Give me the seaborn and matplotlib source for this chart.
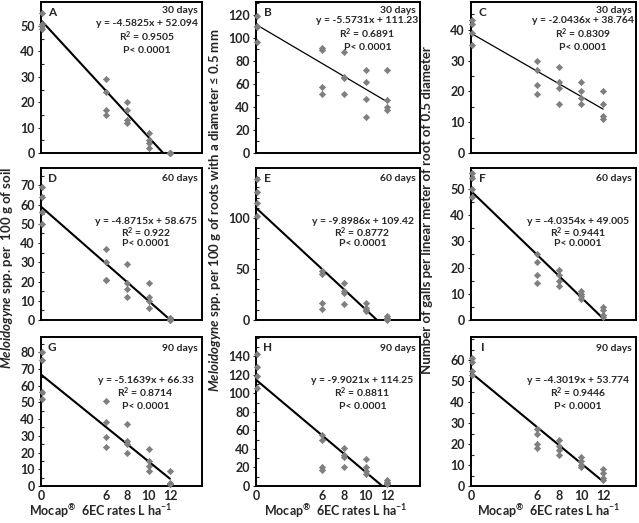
"""Mocap 6EC dose-response: 3x3 grid of nematode counts vs rate, with linear fits."""

import matplotlib
matplotlib.use("Agg")
import matplotlib.pyplot as plt
import numpy as np
import pandas as pd
import seaborn as sns
from matplotlib.ticker import MultipleLocator

sns.set_style("white")
plt.rcParams["font.family"] = ["Lato", "DejaVu Sans"]
plt.rcParams["font.weight"] = "bold"
plt.rcParams["mathtext.fontset"] = "custom"
plt.rcParams["mathtext.rm"] = "Lato:bold"
plt.rcParams["mathtext.bf"] = "Lato:bold"
plt.rcParams["mathtext.it"] = "Lato:italic:bold"
plt.rcParams["mathtext.default"] = "bf"

# ---- data: four replicates per Mocap rate ----
rates = [0, 6, 8, 10, 12]
panel_ids = ["A", "B", "C", "D", "E", "F", "G", "H", "I"]
days = ["30 days"] * 3 + ["60 days"] * 3 + ["90 days"] * 3

reps_A = [[55, 51, 50, 49], [29, 24, 17, 15], [20, 17, 13, 12], [8, 5, 4, 2], [0, 0, 0, 0]]
reps_B = [[119, 110, 109, 96], [91, 89, 57, 51], [88, 66, 65, 51], [72, 62, 47, 31], [72, 46, 40, 37]]
reps_C = [[43, 42, 39, 35], [30, 27, 22, 19], [28, 23, 21, 16], [23, 20, 18, 16], [20, 16, 12, 11]]
reps_D = [[69, 64, 56, 50], [37, 30, 21, 21], [29, 19, 16, 12], [19, 12, 10, 6], [1, 0, 0, 1]]
reps_E = [[138, 125, 115, 102], [48, 45, 17, 11], [36, 28, 26, 16], [17, 12, 10, 9], [4, 2, 1, 0]]
reps_F = [[56, 54, 50, 47], [25, 22, 17, 14], [19, 17, 15, 13], [11, 10, 9, 8], [5, 4, 2, 1]]
reps_G = [[80, 75, 56, 52], [51, 38, 29, 23], [37, 27, 25, 20], [22, 15, 12, 9], [9, 2, 1, 1]]
reps_H = [[143, 129, 119, 106], [55, 50, 21, 17], [41, 33, 31, 21], [29, 20, 16, 13], [6, 4, 3, 2]]
reps_I = [[61, 59, 55, 53], [27, 25, 20, 18], [22, 19, 17, 15], [14, 12, 10, 9], [8, 6, 4, 3]]
all_reps = [reps_A, reps_B, reps_C, reps_D, reps_E, reps_F, reps_G, reps_H, reps_I]

# fitted regressions as printed on each panel
slopes = [-4.5825, -5.5731, -2.0436, -4.8715, -9.8986, -4.0354, -5.1639, -9.9021, -4.3019]
intercepts = [52.094, 111.23, 38.764, 58.675, 109.42, 49.005, 66.33, 114.25, 53.774]
eq_text = ["y = -4.5825x + 52.094", "y = -5.5731x + 111.23", "y = -2.0436x + 38.764",
           "y = -4.8715x + 58.675", "y = -9.8986x + 109.42", "y = -4.0354x + 49.005",
           "y = -5.1639x + 66.33", "y = -9.9021x + 114.25", "y = -4.3019x + 53.774"]
r2_text = ["0.9505", "0.6891", "0.8309", "0.922", "0.8772", "0.9441", "0.8714", "0.8811", "0.9446"]

y_top = [59.5, 131, 49, 79, 149, 58, 89, 161, 71]
y_major = [10, 20, 10, 10, 50, 10, 10, 20, 10]
y_minor = [5, 10, 5, 5, 10, 5, 5, 10, 5]
y_max_tick = [50, 120, 40, 70, 100, 50, 80, 140, 60]

W, H = 639, 523
cols_px = [(41, 202), (256, 420), (471, 636)]
rows_px = [(2, 153), (168, 320), (337, 486)]
GREY = "#7f7f7f"

fig = plt.figure(figsize=(W / 100, H / 100), dpi=100)

for k, pid in enumerate(panel_ids):
    r, c = divmod(k, 3)
    (l, rgt), (t, b) = cols_px[c], rows_px[r]
    ax = fig.add_axes([l / W, 1 - b / H, (rgt - l) / W, (b - t) / H])

    df = pd.DataFrame([(x, v) for x, vals in zip(rates, all_reps[k]) for v in vals],
                      columns=["rate", "count"])
    sns.scatterplot(data=df, x="rate", y="count", ax=ax, marker="D", s=10,
                    color=GREY, edgecolor=GREY, linewidth=0.5, zorder=3, clip_on=False)
    fit = pd.DataFrame({"rate": [rates[0], rates[-1]]})
    fit["count"] = slopes[k] * fit["rate"] + intercepts[k]
    sns.lineplot(data=fit, x="rate", y="count", ax=ax, color="black",
                 linewidth=0.9 if pid in ("B", "C") else 1.5, zorder=2)

    ax.set_xlim(-0.05, 15)
    ax.set_ylim(0, y_top[k])
    ax.set_yticks(np.arange(0, y_max_tick[k] + 1, y_major[k]))
    ax.yaxis.set_minor_locator(MultipleLocator(y_minor[k]))
    ax.tick_params(axis="y", which="major", direction="out", length=2.5, width=0.8,
                   labelsize=9, left=True, pad=2)
    ax.tick_params(axis="y", which="minor", direction="in", length=2.5, width=0.8, left=True)
    ax.set_xticks(rates)
    ax.tick_params(axis="x", length=0, labelsize=9, pad=3)
    if r < 2:
        ax.set_xticklabels([])
    for lab in ax.get_xticklabels() + ax.get_yticklabels():
        lab.set_fontweight("bold")
    ax.set_xlabel("")
    ax.set_ylabel("")
    for sp in ax.spines.values():
        sp.set_color("black")
        sp.set_linewidth(1.4)

    ax.text(0.07, 0.93, pid, transform=ax.transAxes, ha="center", va="center",
            fontsize=8.5, fontweight="bold")
    if r == 0:
        ax.text(0.975, 0.945, days[k], transform=ax.transAxes, ha="right", va="center",
                fontsize=7.5, fontweight="bold")
        ex, ys = (0.66, [0.855, 0.77, 0.68]) if pid == "A" else (0.68, [0.875, 0.79, 0.70])
    elif r == 1:
        ax.text(0.975, 0.93, days[k], transform=ax.transAxes, ha="right", va="center",
                fontsize=7.5, fontweight="bold")
        ex, ys = 0.65, [0.645, 0.575, 0.505]
    else:
        ax.text(0.975, 0.925, days[k], transform=ax.transAxes, ha="right", va="center",
                fontsize=7.5, fontweight="bold")
        ex, ys = 0.65, [0.71, 0.625, 0.535]
    ax.text(ex, ys[0], eq_text[k], transform=ax.transAxes, ha="center", va="center",
            fontsize=7.5, fontweight="bold")
    ax.text(ex, ys[1], r"R$^{2}$ = " + r2_text[k], transform=ax.transAxes, ha="center",
            va="center", fontsize=7.5, fontweight="bold")
    ax.text(ex, ys[2], "P< 0.0001", transform=ax.transAxes, ha="center", va="center",
            fontsize=7.5, fontweight="bold")

# shared axis titles, one per column
xlab = r"Mocap$^{®}$  6EC rates L ha$^{-1}$"
for xc in (101, 336, 549):
    fig.text(xc / W, 1 - 520 / H, xlab, ha="center", va="bottom", fontsize=9,
             fontweight="bold")

fig.text(7 / W, 1 - 268 / H, r"$\mathit{Meloidogyne}$ spp. per  100 g of soil",
         rotation=90, ha="center", va="center", fontsize=9.5, fontweight="bold")
fig.text(215 / W, 1 - 210 / H,
         r"$\mathit{Meloidogyne}$ spp. per 100 g of roots with a diameter ≤ 0.5 mm",
         rotation=90, ha="center", va="center", fontsize=9.5, fontweight="bold")
fig.text(427 / W, 1 - 210 / H, "Number of galls per linear meter of root of 0.5 diameter",
         rotation=90, ha="center", va="center", fontsize=9.5, fontweight="bold")

fig.savefig("out.png", dpi=100)
